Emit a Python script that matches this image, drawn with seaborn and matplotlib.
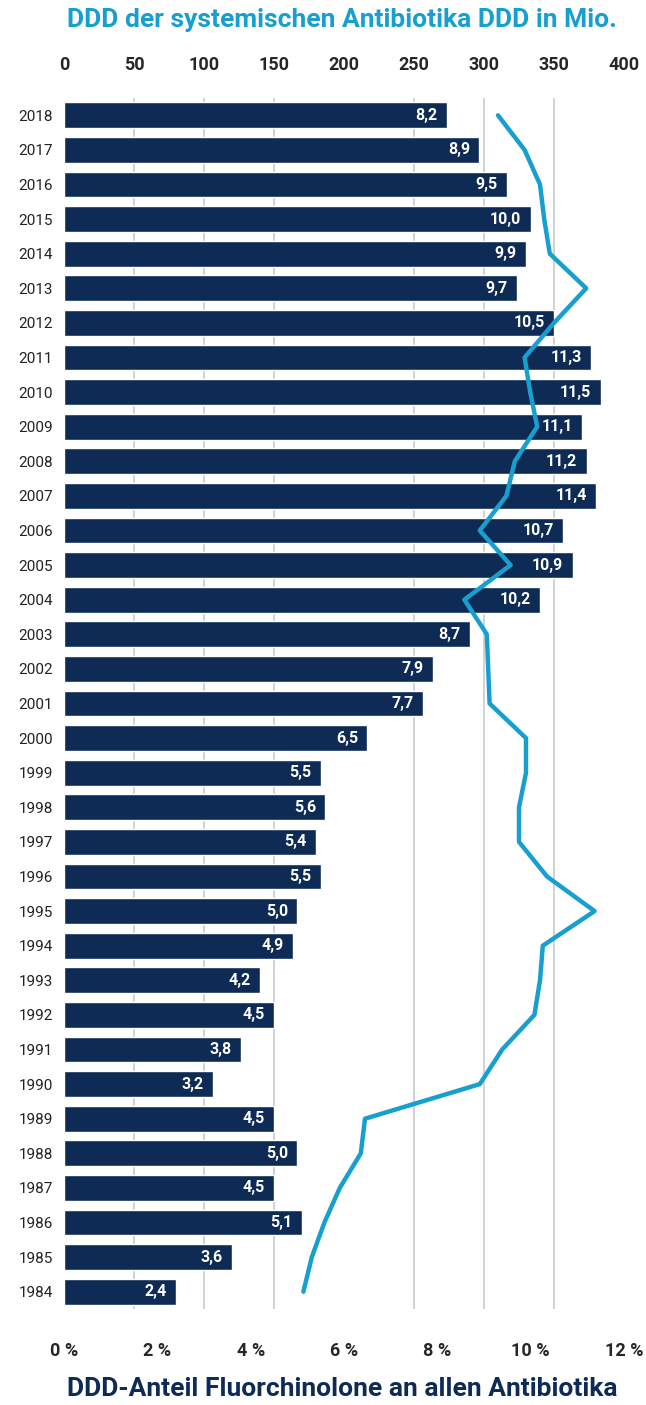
import numpy as np
import seaborn as sns
import matplotlib.pyplot as plt

years = ['2018', '2017', '2016', '2015', '2014', '2013', '2012', '2011', '2010', '2009',
         '2008', '2007', '2006', '2005', '2004', '2003', '2002', '2001', '2000', '1999',
         '1998', '1997', '1996', '1995', '1994', '1993', '1992', '1991', '1990', '1989',
         '1988', '1987', '1986', '1985', '1984']
share_pct = [8.2, 8.9, 9.5, 10.0, 9.9, 9.7, 10.5, 11.3, 11.5, 11.1,
             11.2, 11.4, 10.7, 10.9, 10.2, 8.7, 7.9, 7.7, 6.5, 5.5,
             5.6, 5.4, 5.5, 5.0, 4.9, 4.2, 4.5, 3.8, 3.2, 4.5,
             5.0, 4.5, 5.1, 3.6, 2.4]
ddd_mio = [310, 329, 340, 343, 347, 373, 350, 329, 333, 338,
           322, 316, 297, 319, 286, 302, 303, 304, 330, 330,
           325, 325, 345, 379, 342, 340, 336, 313, 297, 215,
           212, 197, 186, 177, 171]
pct_ticks = [0, 2, 4, 6, 8, 10, 12]
ddd_ticks = [0, 50, 100, 150, 200, 250, 300, 350, 400]

navy = '#0d2b55'
blue = '#179fcf'

sns.set_theme(style='white')
plt.rcParams['font.family'] = ['Roboto', 'DejaVu Sans']

fig = plt.figure(figsize=(6.46, 14.05), dpi=100)
ax = fig.add_axes([64 / 646, 96 / 1405, 560 / 646, 1211 / 1405])

sns.barplot(x=share_pct, y=years, orient='h', color=navy, saturation=1,
            width=0.75, ax=ax)
for i, v in enumerate(share_pct):
    ax.text(v - 0.2, i, f'{v:.1f}'.replace('.', ','), ha='right', va='center',
            color='white', fontsize=11.5, fontweight='bold')

ax.set_xlim(0, 12)
ax.set_ylim(len(years) - 0.5, -0.5)
ax.set_xticks(pct_ticks)
ax.set_xticklabels([f'{t} %' for t in pct_ticks], fontsize=13, fontweight='bold')
# grid follows the top axis (every 50 Mio. DDD = 1.5 %)
ax.set_xticks(np.linspace(0, 12, len(ddd_ticks)), minor=True)
ax.grid(which='minor', axis='x', color='#c8cbd0', linewidth=1.2)
ax.set_axisbelow(True)
ax.tick_params(axis='x', which='both', length=0, pad=24)
ax.tick_params(axis='y', length=0, labelsize=11, labelcolor='#222222', pad=8)
ax.set(xlabel='', ylabel='')
for s in ax.spines.values():
    s.set_visible(False)

ax2 = ax.twiny()
sns.lineplot(x=ddd_mio, y=np.arange(len(years)), sort=False, orient='y',
             color=blue, linewidth=3.2, ax=ax2)
ax2.set_xlim(0, 400)
ax2.set_ylim(len(years) - 0.5, -0.5)
ax2.set_xticks(ddd_ticks)
ax2.set_xticklabels([str(t) for t in ddd_ticks], fontsize=13, fontweight='bold')
ax2.tick_params(axis='x', length=0, pad=17)
for s in ax2.spines.values():
    s.set_visible(False)

fig.text(342 / 646, 1 - 20 / 1405, 'DDD der systemischen Antibiotika DDD in Mio.',
         ha='center', va='center', color=blue, fontsize=19, fontweight='bold')
fig.text(342 / 646, 16 / 1405, 'DDD-Anteil Fluorchinolone an allen Antibiotika',
         ha='center', va='center', color=navy, fontsize=19, fontweight='bold')

fig.savefig('out.png', dpi=100)
